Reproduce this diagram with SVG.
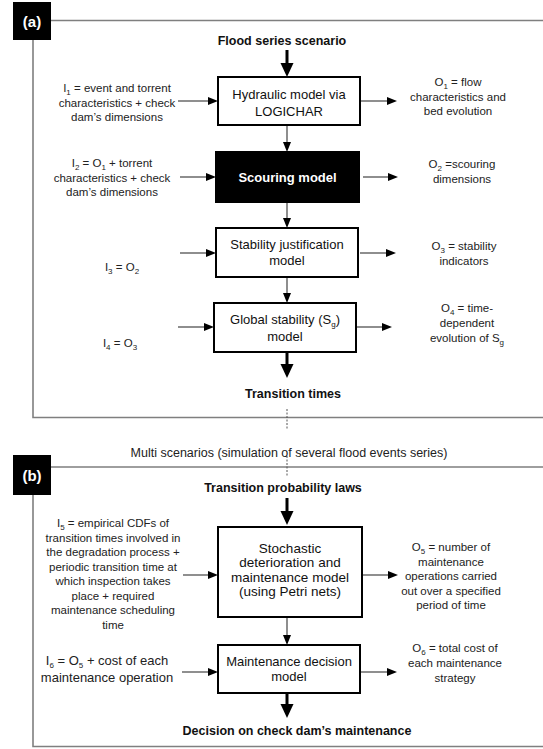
<svg xmlns="http://www.w3.org/2000/svg" width="543" height="749" viewBox="0 0 543 749">
<style>
text{font-family:"Liberation Sans",Arial,sans-serif;fill:#111}
.side{font-size:11.5px;text-anchor:middle;fill:#222}
.box{fill:#fff;stroke:#000;stroke-width:2}
.bt{font-size:13px;text-anchor:middle}
.hd{font-size:12.5px;font-weight:bold;text-anchor:middle}
.sub{font-size:8px}
.frame{fill:none;stroke:#7f7f7f;stroke-width:1.6}
.thin{stroke:#444;stroke-width:1.2;fill:none}
.thick{stroke:#000;stroke-width:3;fill:none}
.dash{stroke:#555;stroke-width:1;stroke-dasharray:2 1.5;fill:none}
.lbl{fill:#000}
.lt{fill:#fff;font-size:15px;font-weight:bold;text-anchor:middle}
</style>
<defs>
<marker id="ah" markerUnits="userSpaceOnUse" markerWidth="12" markerHeight="10" refX="0" refY="4" orient="auto" overflow="visible"><path d="M0,0 L10,4 L0,8 z" fill="#000"/></marker>
<marker id="ahb" markerUnits="userSpaceOnUse" markerWidth="16" markerHeight="14" refX="0" refY="6.5" orient="auto" overflow="visible"><path d="M0,0 L14,6.5 L0,13 z" fill="#000"/></marker>
</defs>

<g id="panel-a">
<path class="frame" d="M51,20.5 H543 M33,40 V417.5 H543"/>
<rect class="lbl" x="13" y="2" width="38" height="38"/>
<text class="lt" x="32" y="26.5">(a)</text>
</g>
<g id="panel-b">
<path class="frame" d="M51,467 H543 M33,495 V746.5 H543"/>
<rect class="lbl" x="13" y="455" width="38" height="40"/>
<text class="lt" x="32" y="480.5">(b)</text>
</g>

<g id="connectors">
<path class="thick" d="M287,50 V63" marker-end="url(#ahb)"/>
<path class="thin" d="M287,125 V142" marker-end="url(#ah)"/>
<path class="thin" d="M287,202 V218" marker-end="url(#ah)"/>
<path class="thin" d="M287,277 V293" marker-end="url(#ah)"/>
<path class="thick" d="M287,352 V364" marker-end="url(#ahb)"/>
<path class="dash" d="M287,409 V430 M287,456 V477"/>
<path class="thick" d="M287,498 V511" marker-end="url(#ahb)"/>
<path class="thin" d="M287,617 V635" marker-end="url(#ah)"/>
<path class="thick" d="M287,693 V704" marker-end="url(#ahb)"/>
<path class="thin" d="M178,101 H208" marker-end="url(#ah)"/>
<path class="thin" d="M360,101 H387" marker-end="url(#ah)"/>
<path class="thin" d="M180,177 H206" marker-end="url(#ah)"/>
<path class="thin" d="M363,177 H388" marker-end="url(#ah)"/>
<path class="thin" d="M180,253 H206" marker-end="url(#ah)"/>
<path class="thin" d="M360,253 H386" marker-end="url(#ah)"/>
<path class="thin" d="M178,327 H204" marker-end="url(#ah)"/>
<path class="thin" d="M357,327 H382" marker-end="url(#ah)"/>
<path class="thin" d="M183,575 H208" marker-end="url(#ah)"/>
<path class="thin" d="M362,575 H388" marker-end="url(#ah)"/>
<path class="thin" d="M182,672 H208" marker-end="url(#ah)"/>
<path class="thin" d="M360,672 H387" marker-end="url(#ah)"/>
</g>

<g id="flood-series">
<text class="hd" x="282" y="45">Flood series scenario</text>
</g>

<g id="hydraulic-model">
<rect class="box" x="218" y="77" width="142" height="48"/>
<text class="bt" x="289" y="98.5">Hydraulic model via</text>
<text class="bt" x="289" y="115.5">LOGICHAR</text>
</g>
<g id="i1">
<text class="side" x="117" y="92"><tspan>I</tspan><tspan class="sub" dy="2.5">1</tspan><tspan dy="-2.5"> = event and torrent</tspan></text>
<text class="side" x="117" y="106.5">characteristics + check</text>
<text class="side" x="117" y="121">dam’s dimensions</text>
</g>
<g id="o1">
<text class="side" x="458" y="86"><tspan>O</tspan><tspan class="sub" dy="2.5">1</tspan><tspan dy="-2.5"> = flow</tspan></text>
<text class="side" x="458" y="100.5">characteristics and</text>
<text class="side" x="458" y="115">bed evolution</text>
</g>

<g id="scouring-model">
<rect x="216" y="152" width="143" height="50" fill="#000" stroke="#000" stroke-width="2"/>
<text class="bt" x="287.5" y="181.5" style="fill:#fff;font-weight:bold">Scouring model</text>
</g>
<g id="i2">
<text class="side" x="112" y="167"><tspan>I</tspan><tspan class="sub" dy="2.5">2</tspan><tspan dy="-2.5"> = O</tspan><tspan class="sub" dy="2.5">1</tspan><tspan dy="-2.5"> +  torrent</tspan></text>
<text class="side" x="112" y="181.5">characteristics + check</text>
<text class="side" x="112" y="196">dam’s dimensions</text>
</g>
<g id="o2">
<text class="side" x="462" y="168"><tspan>O</tspan><tspan class="sub" dy="2.5">2</tspan><tspan dy="-2.5"> =scouring</tspan></text>
<text class="side" x="462" y="182.5">dimensions</text>
</g>

<g id="stability-justification-model">
<rect class="box" x="216" y="228" width="142" height="49"/>
<text class="bt" x="287" y="248.5">Stability justification</text>
<text class="bt" x="287" y="264.5">model</text>
</g>
<g id="i3">
<text class="side" x="122" y="271"><tspan>I</tspan><tspan class="sub" dy="2.5">3</tspan><tspan dy="-2.5"> = O</tspan><tspan class="sub" dy="2.5">2</tspan></text>
</g>
<g id="o3">
<text class="side" x="464" y="250"><tspan>O</tspan><tspan class="sub" dy="2.5">3</tspan><tspan dy="-2.5"> = stability</tspan></text>
<text class="side" x="464" y="264.5">indicators</text>
</g>

<g id="global-stability-model">
<rect class="box" x="214" y="303" width="142" height="49"/>
<text class="bt" x="285" y="324"><tspan>Global stability (S</tspan><tspan class="sub" dy="2.5">g</tspan><tspan dy="-2.5">)</tspan></text>
<text class="bt" x="285" y="341">model</text>
</g>
<g id="i4">
<text class="side" x="120" y="347"><tspan>I</tspan><tspan class="sub" dy="2.5">4</tspan><tspan dy="-2.5"> = O</tspan><tspan class="sub" dy="2.5">3</tspan></text>
</g>
<g id="o4">
<text class="side" x="467" y="312"><tspan>O</tspan><tspan class="sub" dy="2.5">4</tspan><tspan dy="-2.5"> = time-</tspan></text>
<text class="side" x="467" y="327">dependent</text>
<text class="side" x="467" y="342"><tspan>evolution of S</tspan><tspan class="sub" dy="2.5">g</tspan></text>
</g>

<g id="transition-times">
<text class="hd" x="293" y="397.5">Transition times</text>
</g>

<g id="multi-scenarios">
<text x="289" y="456.5" style="font-size:12.5px;text-anchor:middle;fill:#222">Multi scenarios (simulation of several flood events series)</text>
</g>

<g id="transition-probability-laws">
<text class="hd" x="283" y="491.5">Transition probability laws</text>
</g>

<g id="stochastic-model">
<rect class="box" x="218" y="527" width="144" height="90"/>
<text class="bt" x="290" y="552.5" style="font-size:13.5px">Stochastic</text>
<text class="bt" x="290" y="567" style="font-size:13.5px">deterioration and</text>
<text class="bt" x="290" y="581.5" style="font-size:13.5px">maintenance model</text>
<text class="bt" x="290" y="596" style="font-size:13.5px">(using Petri nets)</text>
</g>
<g id="i5">
<text class="side" x="113" y="527"><tspan>I</tspan><tspan class="sub" dy="2.5">5</tspan><tspan dy="-2.5"> = empirical CDFs of</tspan></text>
<text class="side" x="113" y="541.5">transition times involved in</text>
<text class="side" x="113" y="556">the degradation process +</text>
<text class="side" x="113" y="570.5">periodic transition time at</text>
<text class="side" x="113" y="585">which inspection takes</text>
<text class="side" x="113" y="599.5">place + required</text>
<text class="side" x="113" y="614">maintenance scheduling</text>
<text class="side" x="113" y="628.5">time</text>
</g>
<g id="o5">
<text class="side" x="451" y="551"><tspan>O</tspan><tspan class="sub" dy="2.5">5</tspan><tspan dy="-2.5"> = number of</tspan></text>
<text class="side" x="451" y="565.5">maintenance</text>
<text class="side" x="451" y="580">operations carried</text>
<text class="side" x="451" y="594.5">out over a specified</text>
<text class="side" x="451" y="609">period  of time</text>
</g>

<g id="maintenance-decision-model">
<rect class="box" x="218" y="645" width="142" height="48"/>
<text class="bt" x="289" y="665.5">Maintenance decision</text>
<text class="bt" x="289" y="680.5">model</text>
</g>
<g id="i6">
<text class="side" x="107" y="665" style="font-size:13px"><tspan>I</tspan><tspan class="sub" dy="2.5">6</tspan><tspan dy="-2.5"> = O</tspan><tspan class="sub" dy="2.5">5</tspan><tspan dy="-2.5"> + cost of each</tspan></text>
<text class="side" x="107" y="682" style="font-size:13px">maintenance operation</text>
</g>
<g id="o6">
<text class="side" x="455" y="652"><tspan>O</tspan><tspan class="sub" dy="2.5">6</tspan><tspan dy="-2.5"> =  total cost of</tspan></text>
<text class="side" x="455" y="667">each maintenance</text>
<text class="side" x="455" y="681.5">strategy</text>
</g>

<g id="decision">
<text class="hd" x="297" y="734.5">Decision on check dam’s maintenance</text>
</g>
</svg>
